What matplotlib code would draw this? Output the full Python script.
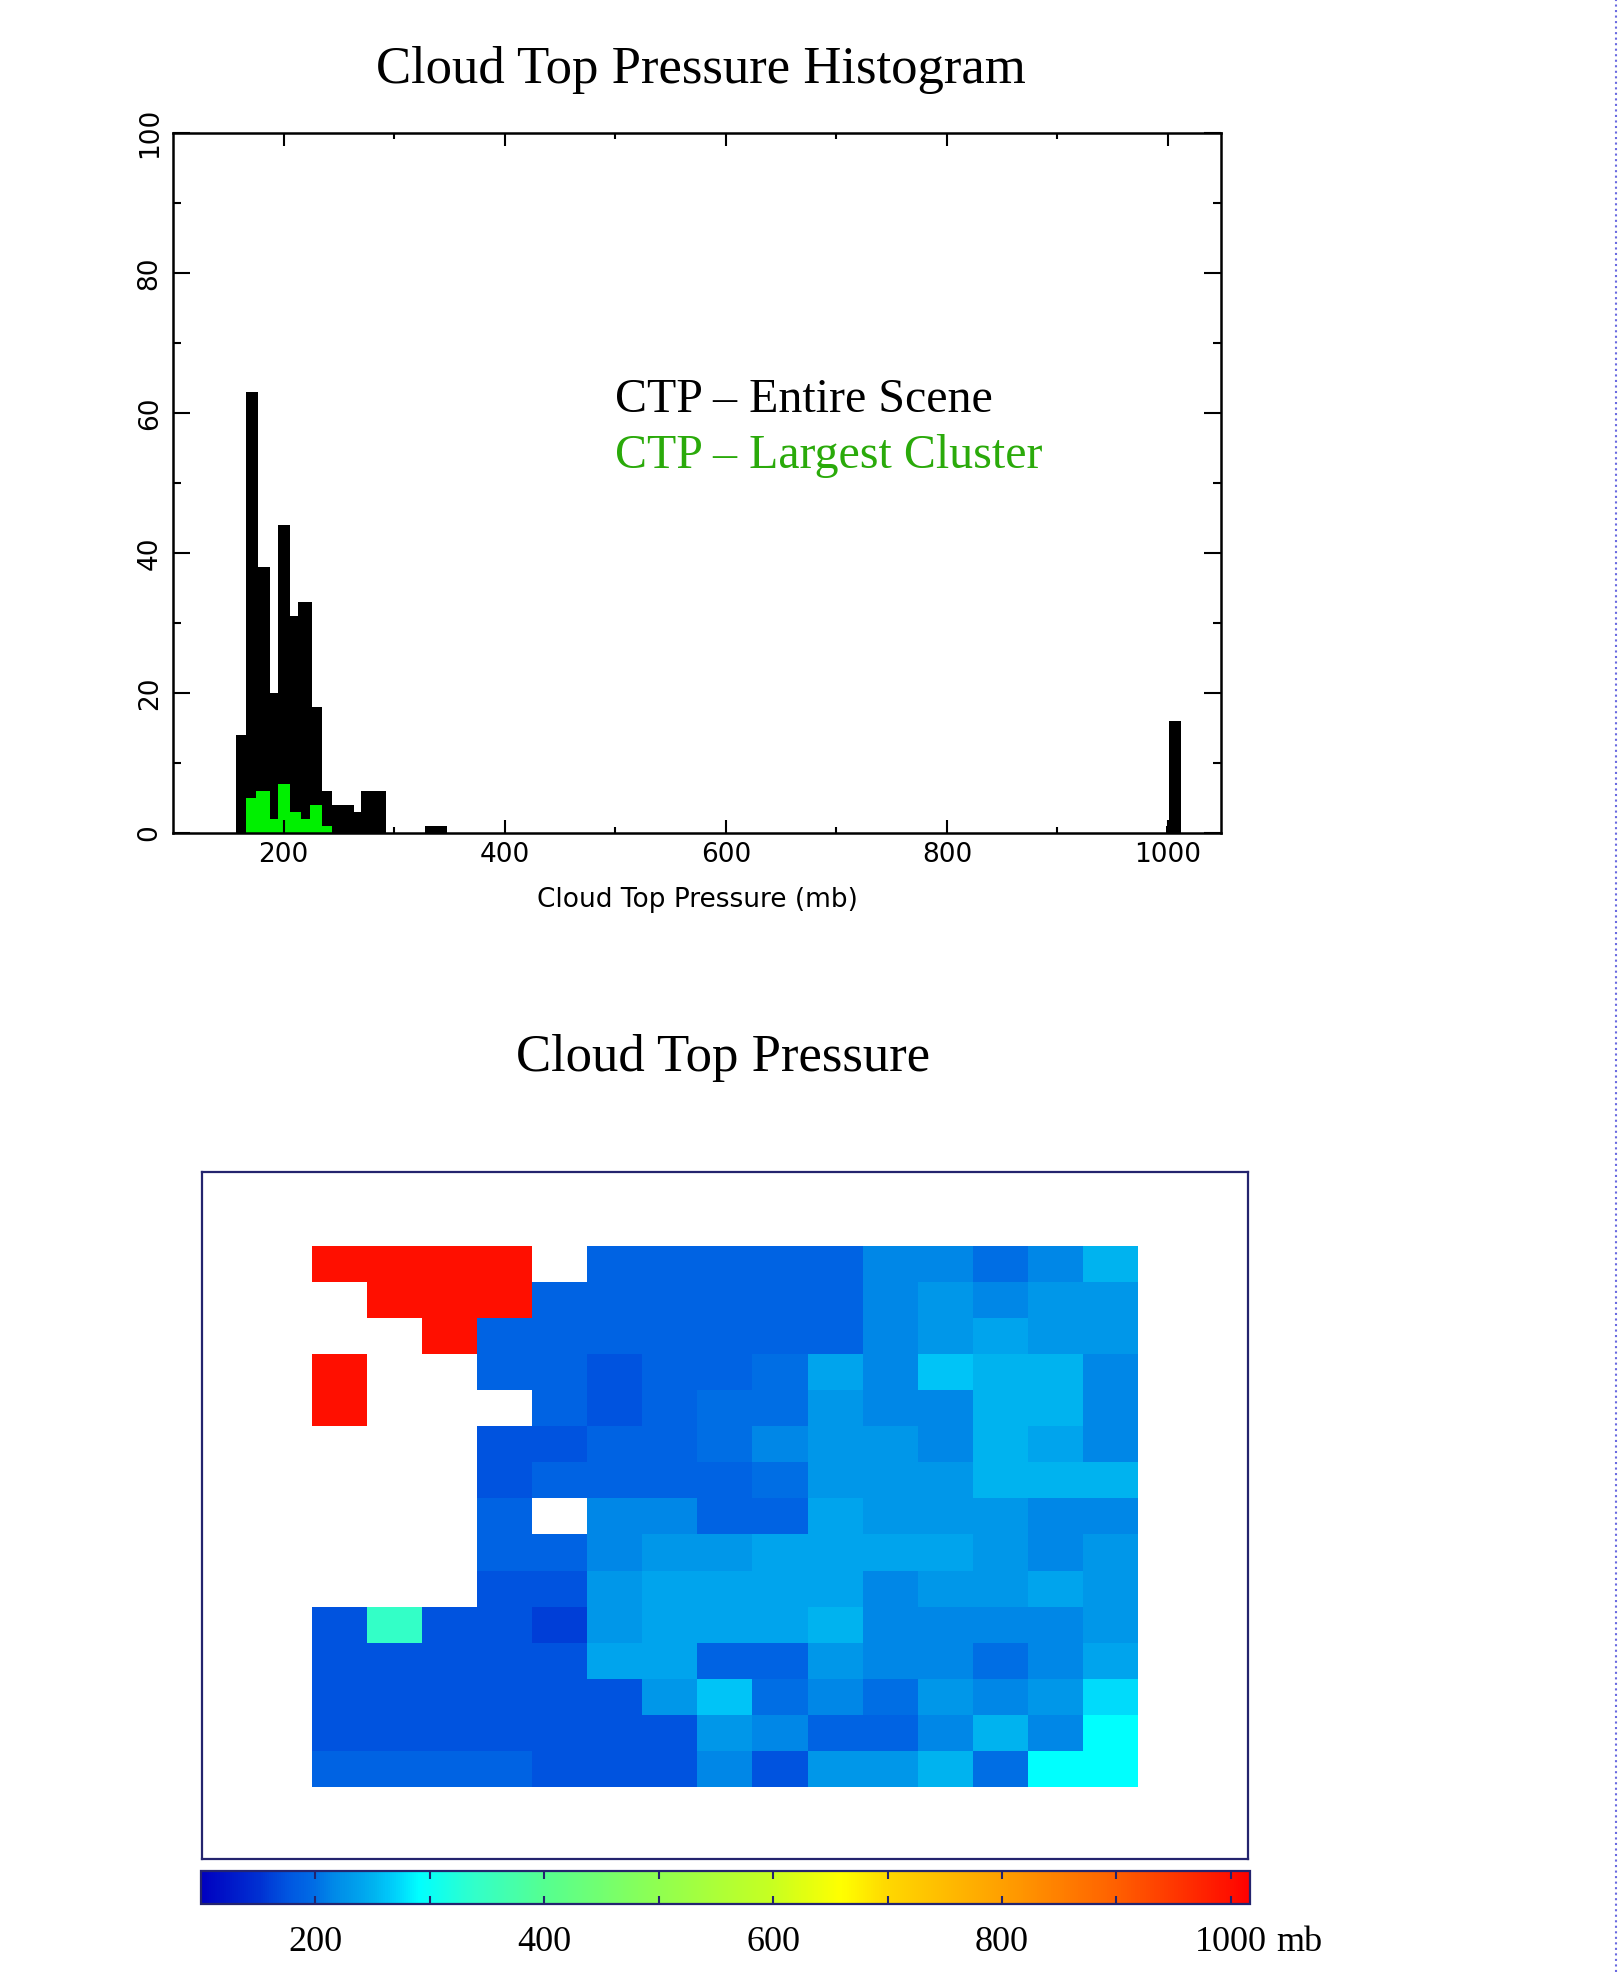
import numpy as np
import matplotlib
matplotlib.use('Agg')
import matplotlib.pyplot as plt
from matplotlib.colors import LinearSegmentedColormap, Normalize
from matplotlib.cm import ScalarMappable
from matplotlib.lines import Line2D

# CTP histogram, entire scene (bin edges in mb, counts)
scene_edges = [157, 166, 177, 188, 195, 206, 213, 226, 235, 244, 264, 270, 293,
               328, 348, 998, 1001, 1012]
scene_counts = [14, 63, 38, 20, 44, 31, 33, 18, 6, 4, 3, 6, 0, 1, 0, 1, 16]

# CTP histogram, largest cluster
cluster_edges = [166, 175, 188, 195, 206, 216, 224, 235, 244]
cluster_counts = [5, 6, 2, 7, 3, 2, 4, 1]

hist_xticks = [200, 400, 600, 800, 1000]
hist_yticks = [0, 20, 40, 60, 80, 100]

# cloud top pressure map (mb), nan = no cloud
nan = np.nan
ctp_grid = [
    [1000, 1000, 1000, 1000, nan, 190, 190, 190, 190, 190, 215, 215, 200, 215, 252],
    [nan, 1000, 1000, 1000, 190, 190, 190, 190, 190, 190, 215, 228, 215, 228, 228],
    [nan, nan, 1000, 190, 190, 190, 190, 190, 190, 190, 215, 228, 240, 228, 228],
    [1000, nan, nan, 190, 190, 175, 190, 190, 200, 240, 215, 262, 252, 252, 215],
    [1000, nan, nan, nan, 190, 175, 190, 200, 200, 228, 215, 215, 252, 252, 215],
    [nan, nan, nan, 175, 175, 190, 190, 200, 215, 228, 228, 215, 252, 240, 215],
    [nan, nan, nan, 175, 190, 190, 190, 190, 200, 228, 228, 228, 252, 252, 252],
    [nan, nan, nan, 190, nan, 215, 215, 190, 190, 240, 228, 228, 228, 215, 215],
    [nan, nan, nan, 190, 190, 215, 228, 228, 240, 240, 240, 240, 228, 215, 228],
    [nan, nan, nan, 175, 175, 228, 240, 240, 240, 240, 215, 228, 228, 240, 228],
    [175, 340, 175, 175, 160, 228, 240, 240, 240, 252, 215, 215, 215, 215, 228],
    [175, 175, 175, 175, 175, 240, 240, 190, 190, 228, 215, 215, 200, 215, 240],
    [175, 175, 175, 175, 175, 175, 228, 262, 200, 215, 200, 228, 215, 228, 275],
    [175, 175, 175, 175, 175, 175, 175, 228, 215, 190, 190, 215, 252, 215, 290],
    [190, 190, 190, 190, 175, 175, 175, 215, 175, 228, 228, 252, 200, 290, 290],
]

cbar_ticks = [200, 400, 600, 800, 1000]
cbar_minor = [300, 500, 700, 900]
vmin, vmax = 100, 1017

# rainbow table like the original (value, colour)
anchors = [(100, '#0000c0'), (150, '#0030d2'), (160, '#0040d8'), (175, '#0055e0'),
           (190, '#0064e4'), (200, '#0070e5'), (215, '#0088e8'), (228, '#0098ea'),
           (240, '#00a5ee'), (252, '#00b5f0'), (262, '#00c5f8'), (275, '#00ddfc'),
           (290, '#00ffff'), (340, '#33ffc8'), (400, '#55ff90'), (500, '#90ff50'),
           (600, '#c8ff20'), (660, '#ffff00'), (700, '#ffd800'), (800, '#ffa000'),
           (900, '#ff6000'), (1000, '#ff1000'), (1017, '#ff0000')]
cmap = LinearSegmentedColormap.from_list(
    'ctp', [((v - vmin) / (vmax - vmin), c) for v, c in anchors], N=512)
norm = Normalize(vmin, vmax)

serif = 'Liberation Serif'
navy = '#24246e'

fig = plt.figure(figsize=(16.19, 19.72), dpi=100)

# ---- histogram ----
fig.text(701 / 1619, 1 - 70 / 1972, 'Cloud Top Pressure Histogram',
         family=serif, fontsize=38, ha='center', va='center')

ax1 = fig.add_axes([0.1069, 0.5776, 0.6473, 0.355])
ax1.stairs(scene_counts, scene_edges, fill=True, color='black')
ax1.stairs(cluster_counts, cluster_edges, fill=True, color='#00f000')
ax1.set_xlim(100, 1048)
ax1.set_ylim(0, 100)
ax1.set_xticks(hist_xticks)
ax1.set_xticks([300, 500, 700, 900], minor=True)
ax1.set_yticks(hist_yticks)
ax1.set_yticks([10, 30, 50, 70, 90], minor=True)
ax1.set_xticklabels([str(t) for t in hist_xticks], fontsize=19)
ax1.set_yticklabels([str(t) for t in hist_yticks], fontsize=19, rotation=90,
                    va='center', ha='right')
ax1.tick_params(which='both', direction='in', top=True, right=True, width=1.5)
ax1.tick_params(axis='x', which='major', length=9.5, pad=6.5)
ax1.tick_params(axis='x', which='minor', length=4.5)
ax1.tick_params(axis='y', which='major', length=12.5, pad=7.5)
ax1.tick_params(axis='y', which='minor', length=6)
for s in ax1.spines.values():
    s.set_linewidth(1.8)
ax1.set_xlabel('Cloud Top Pressure (mb)', fontsize=19, labelpad=14)

ax1.text(500, 60.2, 'CTP \u2013 Entire Scene', family=serif, fontsize=34.5,
         va='baseline', color='black')
ax1.text(500, 52.1, 'CTP \u2013 Largest Cluster', family=serif, fontsize=34.5,
         va='baseline', color='#2aaa0a')

# ---- map ----
fig.text(723 / 1619, 1 - 1058 / 1972, 'Cloud Top Pressure',
         family=serif, fontsize=38, ha='center', va='center')

ax2 = fig.add_axes([0.1248, 0.0573, 0.6461, 0.3484])
ax2.imshow(np.array(ctp_grid, dtype=float), cmap=cmap, norm=norm,
           extent=(0, 15, 15, 0), interpolation='nearest', aspect='auto')
ax2.set_xlim(-2, 17)
ax2.set_ylim(17.0, -2.08)
ax2.set_xticks([])
ax2.set_yticks([])
for s in ax2.spines.values():
    s.set_color(navy)
    s.set_linewidth(1.6)

cax = fig.add_axes([0.1242, 0.0345, 0.648, 0.0167])
cb = fig.colorbar(ScalarMappable(norm=norm, cmap=cmap), cax=cax,
                  orientation='horizontal')
cb.outline.set_edgecolor(navy)
cb.outline.set_linewidth(1.6)
cax.set_xticks(cbar_ticks)
cax.set_xticks(cbar_minor, minor=True)
cax.set_xticklabels([str(t) for t in cbar_ticks], family=serif, fontsize=26)
cax.tick_params(which='both', direction='in', top=True, bottom=True,
                length=6, width=1.5, color=navy, pad=16)
cax.annotate('mb', xy=(1000, 0), xycoords=('data', 'axes fraction'),
             xytext=(33, -16), textcoords='offset points',
             ha='left', va='top', family=serif, fontsize=26)

# dotted page edge on the right
fig.add_artist(Line2D([1616 / 1619, 1616 / 1619], [0, 1], transform=fig.transFigure,
                      color='#6a6ae0', lw=1.5, ls=':'))

fig.savefig('out.png', dpi=100)
